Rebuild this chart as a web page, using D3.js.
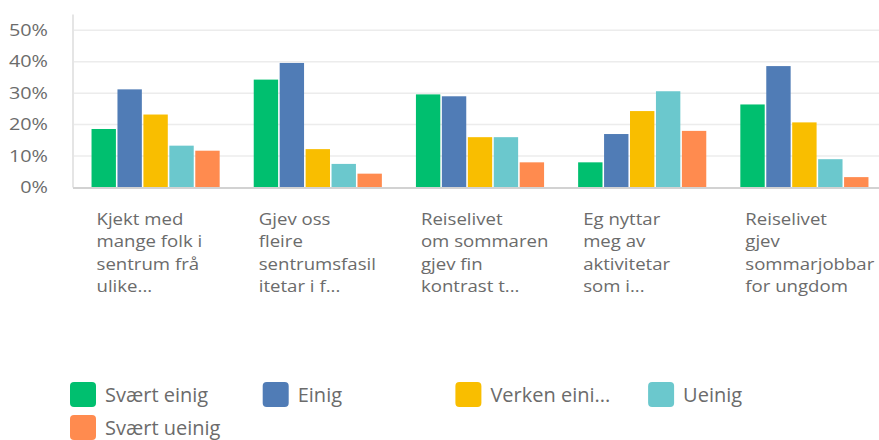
<!DOCTYPE html>
<html>
<head>
<meta charset="utf-8">
<script src="https://cdn.jsdelivr.net/npm/d3@7"></script>
<style>
  body { margin: 0; background: #fff; }
  svg { display: block; }
</style>
</head>
<body>
<script>
// Questions (already wrapped as on the chart)
const categories = [
  ["Kjekt med", "mange folk i", "sentrum frå", "ulike..."],
  ["Gjev oss", "fleire", "sentrumsfasil", "itetar i f..."],
  ["Reiselivet", "om sommaren", "gjev fin", "kontrast t..."],
  ["Eg nyttar", "meg av", "aktivitetar", "som i..."],
  ["Reiselivet", "gjev", "sommarjobbar", "for ungdom"]
];
const series = ["Svært einig", "Einig", "Verken eini...", "Ueinig", "Svært ueinig"];
const colors = ["#00bf6f", "#507cb6", "#f9be00", "#6bc8cd", "#ff8b4f"];

// percent per question, one array per answer
const svaertEinig = [18.6, 34.3, 29.6, 8.0, 26.4];
const einig = [31.2, 39.6, 29.0, 17.0, 38.6];
const verken = [23.2, 12.2, 16.0, 24.3, 20.7];
const ueinig = [13.3, 7.5, 16.0, 30.6, 9.0];
const svaertUeinig = [11.7, 4.4, 8.0, 18.0, 3.3];
const yTicks = [0, 10, 20, 30, 40, 50];

const values = [svaertEinig, einig, verken, ueinig, svaertUeinig];

const width = 879, height = 440;
const font = "'Open Sans', sans-serif";

const svg = d3.select("body").append("svg")
  .attr("width", width)
  .attr("height", height);

const keys = categories.map((c, i) => i);
const x = d3.scaleBand().domain(keys).range([74.5, 885.5])
  .paddingInner(0.21).paddingOuter(0.105);
const xs = d3.scaleBand().domain(series).range([0, x.bandwidth()]).paddingInner(0.06);
const y = d3.scaleLinear().domain([0, 55]).range([187.5, 14.5]);

// text stretched sideways like the source picture
function label(g, tx, ty, str, size, sx, anchor) {
  return g.append("text")
    .attr("transform", `translate(${tx},${ty}) scale(${sx},1)`)
    .attr("text-anchor", anchor || "start")
    .attr("font-family", font)
    .attr("font-size", size)
    .attr("fill", "#6b6b6b")
    .text(str);
}

// grid
svg.append("g")
  .selectAll("line")
  .data(yTicks.slice(1))
  .join("line")
  .attr("x1", 74).attr("x2", width)
  .attr("y1", d => y(d)).attr("y2", d => y(d))
  .attr("stroke", "#ececec")
  .attr("stroke-width", 1.5);

// y tick labels
const yl = svg.append("g");
yTicks.forEach(t => label(yl, 48, y(t) + 5.5, t + "%", 16, 1.24, "end"));

// bars
svg.append("g")
  .selectAll("g")
  .data(keys)
  .join("g")
  .attr("transform", i => `translate(${x(i)},0)`)
  .selectAll("rect")
  .data(i => series.map((s, k) => ({ s, k, v: values[k][i] })))
  .join("rect")
  .attr("x", d => xs(d.s))
  .attr("width", xs.bandwidth())
  .attr("y", d => y(d.v))
  .attr("height", d => y(0) - y(d.v))
  .attr("fill", d => colors[d.k]);

// axes lines
svg.append("line")
  .attr("x1", 73).attr("x2", 73)
  .attr("y1", y(55)).attr("y2", y(0))
  .attr("stroke", "#dcdcdc").attr("stroke-width", 1.5);
svg.append("line")
  .attr("x1", 73).attr("x2", width)
  .attr("y1", y(0) + 0.5).attr("y2", y(0) + 0.5)
  .attr("stroke", "#d2d2d2").attr("stroke-width", 2);

// category labels
const xl = svg.append("g");
categories.forEach((lines, i) => {
  lines.forEach((ln, j) => label(xl, x(i) + 5, 225 + j * 22.3, ln, 15.5, 1.2));
});

// legend
const lg = svg.append("g");
series.forEach((s, k) => {
  const col = k % 4, row = Math.floor(k / 4);
  const lx = 70 + col * 192.7, ly = 382 + row * 33;
  lg.append("rect")
    .attr("x", lx).attr("y", ly)
    .attr("width", 26).attr("height", 25)
    .attr("rx", 4)
    .attr("fill", colors[k]);
  label(lg, lx + 35, ly + 19.5, s, 20, 1);
});
</script>
</body>
</html>
